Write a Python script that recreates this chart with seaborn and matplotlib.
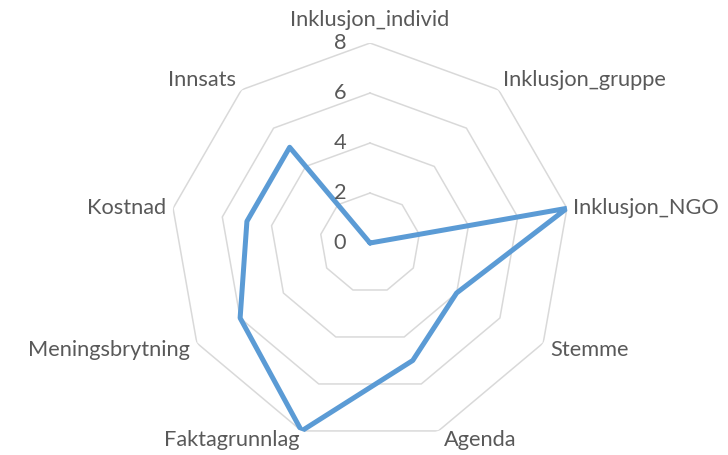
"""
Radar chart of one profile over nine criteria, Excel-like styling.
"""

import numpy as np
import pandas as pd
import matplotlib.pyplot as plt
import seaborn as sns


categories = ["Inklusjon_individ", "Inklusjon_gruppe", "Inklusjon_NGO", "Stemme",
              "Agenda", "Faktagrunnlag", "Meningsbrytning", "Kostnad", "Innsats"]
values = [0, 0, 8, 4, 5, 8, 6, 5, 5]
r_ticks = [0, 2, 4, 6, 8]

# label offsets (pixels) from the outer vertex, and alignment
label_pos = {
    "Inklusjon_individ": (0, 13, "center", "bottom"),
    "Inklusjon_gruppe": (4, 10, "left", "center"),
    "Inklusjon_NGO": (6, 0, "left", "center"),
    "Stemme": (7, -7, "left", "center"),
    "Agenda": (6, -9, "left", "center"),
    "Faktagrunnlag": (-2, -9, "right", "center"),
    "Meningsbrytning": (-7, -7, "right", "center"),
    "Kostnad": (-7, 0, "right", "center"),
    "Innsats": (-5, 10, "right", "center"),
}

TEXT = "#595959"
GRID = "#d9d9d9"
LINE = "#5b9bd5"
FS = 15.7


def main():
    sns.set_theme(style="white")
    plt.rcParams["font.family"] = ["Lato", "DejaVu Sans"]

    n = len(categories)
    theta = np.arange(n) * 2 * np.pi / n
    # close the polygon at 2*pi so the first point is not merged with the last
    df = pd.DataFrame({"theta": np.append(theta, 2 * np.pi),
                       "value": values + values[:1]})

    fig = plt.figure(figsize=(7.28, 4.55), dpi=100)
    ax = fig.add_axes([0.2335, 0.0264, 0.5495, 0.879], projection="polar")
    ax.set_theta_zero_location("N")
    ax.set_theta_direction(-1)
    ax.set_ylim(0, 8)
    ax.grid(False)
    ax.spines["polar"].set_visible(False)
    ax.set_xticks([])
    ax.set_yticks([])
    ax.patch.set_alpha(0)

    ring_theta = np.append(theta, 2 * np.pi)
    for r in r_ticks[1:]:
        ax.plot(ring_theta, [r] * len(ring_theta), color=GRID, lw=1.1, zorder=1)

    sns.lineplot(data=df, x="theta", y="value", sort=False, estimator=None,
                 color=LINE, lw=3.6, ax=ax, zorder=3)
    ax.set_xlabel("")
    ax.set_ylabel("")

    for r in r_ticks:
        ax.annotate(str(r), xy=(0, r), xytext=(-30, 0), textcoords="offset pixels",
                    ha="center", va="center", fontsize=FS, color=TEXT)

    for t, name in zip(theta, categories):
        dx, dy, ha, va = label_pos[name]
        ax.annotate(name, xy=(t, 8), xytext=(dx, dy), textcoords="offset pixels",
                    ha=ha, va=va, fontsize=FS, color=TEXT, annotation_clip=False)

    fig.savefig("out.png", dpi=100)


if __name__ == "__main__":
    main()
